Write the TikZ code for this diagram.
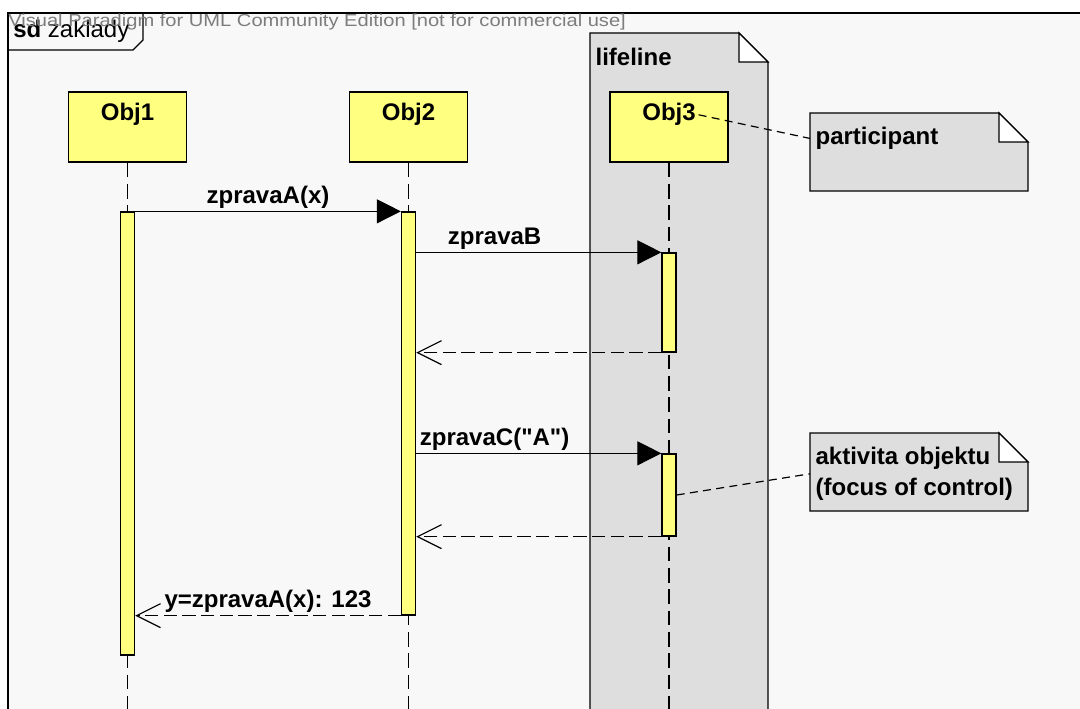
\documentclass[tikz,border=0pt]{standalone}
\usepackage{fontspec}
\setmainfont{Liberation Sans}[Ligatures=TeXOff]
\usetikzlibrary{arrows.meta, positioning}
\definecolor{objyellow}{RGB}{255,255,128}
\definecolor{notegray}{RGB}{222,222,222}
\definecolor{framebg}{RGB}{248,248,248}
\definecolor{markgray}{RGB}{125,125,125}
\newcommand{\umlfont}{\fontsize{18}{23}\selectfont}
% folded note: x, y, width, height (in px)
\newcommand{\umlnote}[4]{%
    \filldraw[notebg] (#1,#2) -- (#1+#3-29,#2) -- (#1+#3,#2+29) -- (#1+#3,#2+#4) -- (#1,#2+#4) -- cycle;
    \filldraw[notebg, fill=white] (#1+#3-29,#2) -- (#1+#3-29,#2+29) -- (#1+#3,#2+29) -- cycle;
}
\tikzset{
    object/.style={draw, fill=objyellow, line width=1pt, minimum width=88.5pt, minimum height=52.5pt},
    objname/.style={font=\umlfont\bfseries, inner sep=2pt},
    activation/.style={draw, fill=objyellow, line width=1pt, minimum width=10.5pt, inner sep=0pt},
    lifeline/.style={line width=1pt, dash pattern=on 11pt off 5pt},
    message/.style={line width=0.9pt, -{Triangle[length=18pt, width=18pt]}},
    reply/.style={line width=0.9pt, dash pattern=on 10pt off 4pt, -{Straight Barb[length=18pt, width=18pt]}},
    msglabel/.style={font=\umlfont\bfseries, inner sep=2pt, above},
    notetext/.style={font=\umlfont\bfseries, align=left, inner xsep=4pt, inner ysep=0pt, anchor=north west},
    notelink/.style={line width=0.9pt, dash pattern=on 6pt off 4pt},
    notebg/.style={fill=notegray, draw, line width=1pt},
}

\begin{document}
\begin{tikzpicture}[x=0.75pt, y=-0.75pt]
    \useasboundingbox (0,0) rectangle (1080,709);
    \fill[white] (0,0) rectangle (1080,709);

    % frame
    \fill[framebg] (8,13) rectangle (1080,709);
    \draw[line width=1.3pt] (1080,13) -- (8,13) -- (8,709);
    \draw[line width=1pt] (8,13) -- (143,13) -- (143,40) -- (133,50) -- (8,50);
    \node[anchor=base west, inner sep=0pt, font=\umlfont] (tab) at (13,38) {\textbf{sd} zaklady};
    \node[anchor=base west, inner sep=0pt, xscale=1.16, text=markgray, font=\fontsize{13}{15}\selectfont] (mark) at (8,27)
        {Visual Paradigm for UML Community Edition [not for commercial use]};

    % lifeline note
    \umlnote{590}{33}{178}{700}
    \node[notetext] (lifenote) at (590,48) {lifeline};

    \coordinate (bottom) at (0,712);

    % objects
    \node[object] (obj1) at (127.5,127) {};
    \node[object] (obj2) at (408.5,127) {};
    \node[object] (obj3) at (669,127) {};
    \node[objname, below=7pt of obj1.north] (obj1lbl) {Obj1};
    \node[objname, below=7pt of obj2.north] (obj2lbl) {Obj2};
    \node[objname, below=7pt of obj3.north] (obj3lbl) {Obj3};

    \draw[lifeline] (obj1.south) -- (obj1.south |- bottom);
    \draw[lifeline] (obj2.south) -- (obj2.south |- bottom);
    \draw[lifeline] (obj3.south) -- (obj3.south |- bottom);

    % activations
    \node[activation, minimum height=332.25pt] (act1) at (127.5,433.5) {};
    \node[activation, minimum height=302.25pt] (act2) at (408.5,413.5) {};
    \node[activation, minimum height=74.25pt] (act3a) at (669,302.5) {};
    \node[activation, minimum height=61.5pt] (act3b) at (669,495) {};

    % messages
    \draw[message] (act1.north east) -- node[msglabel] {zpravaA(x)} (act2.north west);
    \draw[message] (act2.east |- act3a.north) -- node[msglabel, pos=0.32] {zpravaB} (act3a.north west);
    \draw[reply] (act3a.south west) -- (act2.east |- act3a.south);
    \draw[message] (act2.east |- act3b.north) -- node[msglabel, pos=0.32] {zpravaC("A")} (act3b.north west);
    \draw[reply] (act3b.south west) -- (act2.east |- act3b.south);
    \draw[reply] (act2.south west) -- node[msglabel] {y=zpravaA(x): 123} (act1.east |- act2.south);

    % notes
    \umlnote{810}{113}{218}{78}
    \node[notetext] (partnote) at (810,127) {participant};
    \umlnote{810}{433}{218}{78}
    \node[notetext] (focusnote) at (810,447) {aktivita objektu\\(focus of control)};

    \draw[notelink] (obj3lbl.east) -- (partnote.west);
    \draw[notelink] (act3b.east) -- (focusnote.west);
\end{tikzpicture}
\end{document}
